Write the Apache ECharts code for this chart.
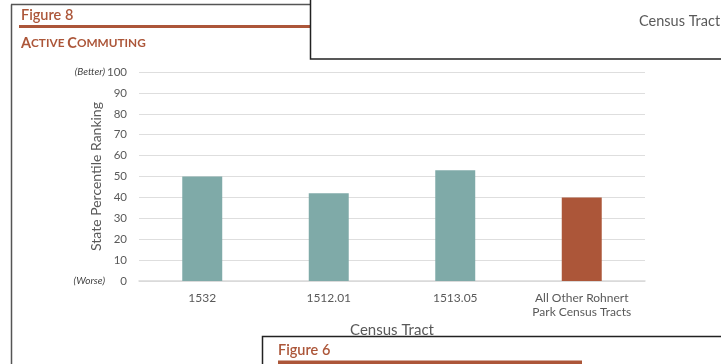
<!DOCTYPE html>
<html>
<head>
<meta charset="utf-8">
<script src="https://cdn.jsdelivr.net/npm/echarts@6/dist/echarts.min.js"></script>
<style>
html,body{margin:0;padding:0;background:#fff;}
#chart{width:721px;height:364px;}
</style>
</head>
<body>
<div id="chart"></div>
<script>
// ---- data ----
const categories = ['1532', '1512.01', '1513.05', 'All Other Rohnert\nPark Census Tracts'];
const values = [50, 42, 53, 40];
const barColors = ['#7faaa8', '#7faaa8', '#7faaa8', '#ac5639'];
const yTicks = [0, 10, 20, 30, 40, 50, 60, 70, 80, 90, 100];
const yExtraLabels = { 0: '(Worse)', 100: '(Better)' };

const FONT = 'Lato, "Open Sans", sans-serif';
const BROWN = '#ac5639';
const GRAY = '#595959';

const chart = echarts.init(document.getElementById('chart'), null, { renderer: 'canvas' });

const option = {
  animation: false,
  textStyle: { fontFamily: FONT },
  grid: { left: 139, right: 76, top: 72, bottom: 83, containLabel: false },
  xAxis: {
    type: 'category',
    data: categories,
    name: 'Census Tract',
    nameLocation: 'middle',
    nameGap: 42,
    nameMoveOverlap: false,
    nameTextStyle: { color: GRAY, fontSize: 15, fontFamily: FONT },
    axisLine: { show: true, lineStyle: { color: '#d9d9d9', width: 1.5 } },
    axisTick: { show: false },
    axisLabel: { color: GRAY, fontSize: 12, margin: 10, lineHeight: 14, fontFamily: FONT, interval: 0 }
  },
  yAxis: {
    type: 'value',
    min: 0,
    max: 100,
    interval: 10,
    name: 'State Percentile Ranking',
    nameLocation: 'middle',
    nameGap: 36,
    nameMoveOverlap: false,
    nameRotate: 90,
    nameTextStyle: { color: GRAY, fontSize: 14, fontFamily: FONT },
    axisLine: { show: false },
    axisTick: { show: false },
    splitLine: { lineStyle: { color: '#dedede', width: 1.2 } },
    axisLabel: {
      margin: 12,
      formatter: function (v) {
        if (yExtraLabels[v] !== undefined) return '{e|' + yExtraLabels[v] + '}{n|' + v + '}';
        return '{n|' + v + '}';
      },
      rich: {
        e: { color: '#404040', fontSize: 10, fontStyle: 'italic', fontFamily: FONT },
        n: { color: GRAY, fontSize: 11.5, width: 22, align: 'right', fontFamily: FONT }
      }
    }
  },
  series: [{
    type: 'bar',
    data: values.map((v, i) => ({ value: v, itemStyle: { color: barColors[i] } })),
    barWidth: '31.6%',
    silent: true
  }],
  graphic: [
    // outer frame of Figure 8
    { type: 'line', z: 100, shape: { x1: 11.5, y1: 4.5, x2: 11.5, y2: 370 }, style: { stroke: '#555', lineWidth: 1.5 } },
    { type: 'line', z: 100, shape: { x1: 11, y1: 4.5, x2: 312, y2: 4.5 }, style: { stroke: '#555', lineWidth: 1.5 } },
    { type: 'text', z: 100, left: 21, top: 8, style: { text: 'Figure 8', fill: BROWN, font: '600 14.5px ' + FONT } },
    { type: 'rect', z: 100, shape: { x: 19, y: 25, width: 292, height: 3 }, style: { fill: BROWN } },
    {
      type: 'text', z: 100, left: 21, top: 36,
      style: {
        text: '{a|A}{b|CTIVE }{a|C}{b|OMMUTING}',
        rich: {
          a: { fill: BROWN, fontSize: 14.5, fontWeight: 'bold', fontFamily: FONT },
          b: { fill: BROWN, fontSize: 11.8, fontWeight: 'bold', fontFamily: FONT }
        }
      }
    },
    // overlapping box top-right
    { type: 'rect', z: 110, shape: { x: 310.5, y: -5, width: 420, height: 64 }, style: { fill: '#fff', stroke: '#222', lineWidth: 1.5 } },
    { type: 'text', z: 111, left: 639, top: 14, style: { text: 'Census Tract', fill: GRAY, font: '14.5px ' + FONT } },
    // overlapping box bottom
    { type: 'rect', z: 110, shape: { x: 262.5, y: 336.5, width: 470, height: 40 }, style: { fill: '#fff', stroke: '#222', lineWidth: 1.5 } },
    { type: 'text', z: 111, left: 278, top: 343, style: { text: 'Figure 6', fill: BROWN, font: '600 14.5px ' + FONT } },
    { type: 'rect', z: 111, shape: { x: 278, y: 360.5, width: 304, height: 6 }, style: { fill: BROWN } }
  ]
};
chart.setOption(option);
</script>
</body>
</html>
